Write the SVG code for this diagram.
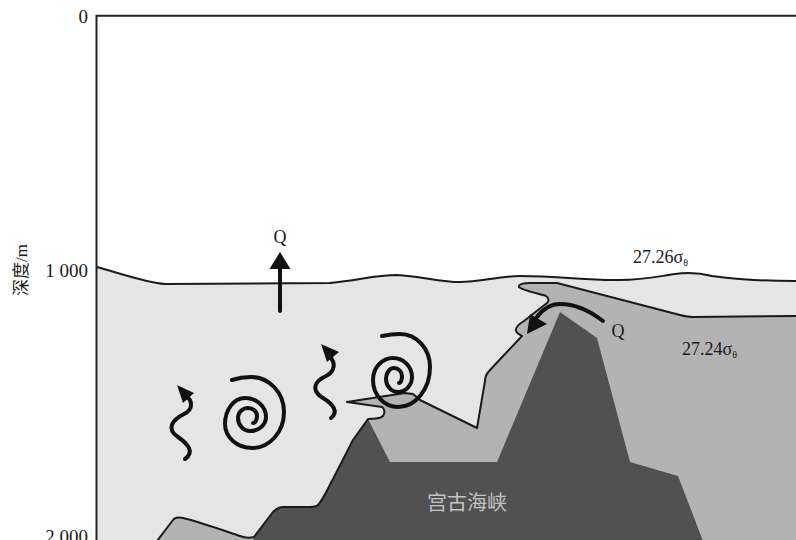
<svg xmlns="http://www.w3.org/2000/svg" width="796" height="540" viewBox="0 0 796 540">
  <style>
    .num { font-family: "Liberation Serif", "Times New Roman", serif; fill: #1a1a1a; }
    .edge { fill: none; stroke: #1a1a1a; stroke-width: 2; stroke-linejoin: round; stroke-linecap: round; }
    .flow { fill: none; stroke: #111; stroke-width: 4; stroke-linecap: round; stroke-linejoin: round; }
    .head { fill: #111; stroke: none; }
  </style>

  <rect x="0" y="0" width="796" height="540" fill="#ffffff"/>

  <!-- water layers -->
  <g id="layers">
    <!-- below the 27.26 isopycnal -->
    <path fill="#e5e5e5" d="M97,267 C125,275 148,283 165,284 L330,283 C360,280 375,275 397,275 C420,276 440,282 460,282 C480,282 500,276 520,276 C560,276 590,281 620,280 C645,280 660,276 675,274 C690,272 700,273 712,276 C740,280 770,281 796,281 L796,540 L97,540 Z"/>
    <!-- 27.24 layer and slope water -->
    <path fill="#b3b3b3" d="M796,316 L693,317 C688,317 684,316 680,315 L557,283 L530,283 C524,283 518,284 519,287 C521,290 540,294 546,296 C549,298 549,301 547,303 L538,310 L524,321 C519,324 515,327 516,331 C517,334 521,335 522,336 L490,370 C486,374 485,377 485,381 L477,428 L420,400 L413,394 L405,393 L347,402 L382,407 C385,409 385,413 383,416 C381,418 377,419 368,419 L353,440 L333,479 C329,486 323,500 318,505 C316,507 313,507 310,507 L283,507 C279,507 276,509 273,512 L254,537 C250,538 245,538 240,536 C225,531 200,522 183,518 C178,517 175,517 173,520 L157,541 L796,541 Z"/>
  </g>

  <!-- strait ridge -->
  <g id="seafloor">
    <path fill="#515151" d="M368,419 L390,462 L497,462 L560,312 L597,338 L630,462 L678,476 L703,541 L253,541 L254,537 L273,512 C276,509 279,507 283,507 L310,507 C313,507 316,507 318,505 C323,500 329,486 333,479 L353,440 Z"/>
    <text x="467" y="510" text-anchor="middle" font-family="'Noto Sans CJK SC', sans-serif" font-size="20" fill="#c4c4c4">宫古海峡</text>
  </g>

  <!-- interfaces -->
  <g id="interfaces">
    <path class="edge" d="M97,267 C125,275 148,283 165,284 L330,283 C360,280 375,275 397,275 C420,276 440,282 460,282 C480,282 500,276 520,276 C560,276 590,281 620,280 C645,280 660,276 675,274 C690,272 700,273 712,276 C740,280 770,281 796,281"/>
    <path class="edge" d="M796,316 L693,317 C688,317 684,316 680,315 L557,283 L530,283 C524,283 518,284 519,287 C521,290 540,294 546,296 C549,298 549,301 547,303 L538,310 L524,321 C519,324 515,327 516,331 C517,334 521,335 522,336 L490,370 C486,374 485,377 485,381 L477,428 L420,400 L413,394 L405,393 L347,402 L382,407 C385,409 385,413 383,416 C381,418 377,419 368,419 L353,440 L333,479 C329,486 323,500 318,505 C316,507 313,507 310,507 L283,507 C279,507 276,509 273,512 L254,537 C250,538 245,538 240,536 C225,531 200,522 183,518 C178,517 175,517 173,520 L157,541"/>
  </g>

  <!-- axes -->
  <g id="axes">
    <path d="M96.5,540 L96.5,15.7 L796,15.7" fill="none" stroke="#222" stroke-width="2"/>
    <text class="num" x="88" y="23" text-anchor="end" font-size="19">0</text>
    <text class="num" x="88" y="277" text-anchor="end" font-size="19">1 000</text>
    <text class="num" x="88" y="543" text-anchor="end" font-size="19">2 000</text>
    <text transform="translate(27,270) rotate(-90)" text-anchor="middle" font-family="'Liberation Serif', 'Noto Sans CJK SC', serif" font-size="17" fill="#1a1a1a">深度/m</text>
  </g>

  <!-- fluxes and eddies -->
  <g id="connectors">
    <!-- upward flux -->
    <path class="flow" d="M280,311 L280,266" stroke-linecap="butt" stroke-width="4.5"/>
    <polygon class="head" points="280,252 269.5,269 290.5,269"/>
    <!-- flux over the sill -->
    <path class="flow" d="M603,321 C590,311 575,304 560,304 C550,304 543,309 537,317"/>
    <polygon class="head" points="527,334 530,314 547,324"/>
    <!-- wavy arrows -->
    <path class="flow" d="M185,459 C195,452 188,444 178,437 C166,429 172,420 184,414 C194,409 192,400 186,396"/>
    <polygon class="head" points="177,385 194,393 183,403"/>
    <path class="flow" d="M331,418 C339,412 333,404 323,398 C310,390 315,381 326,376 C336,371 335,362 330,357"/>
    <polygon class="head" points="321,344 339,352 327,362"/>
    <!-- eddies -->
    <path class="flow" d="M232,380 Q241,377 251,377 A33 35 0 0 1 284 412 A32 36 0 0 1 252 448 A27 24 0 0 1 225 424 A20 26 0 0 1 245 398 A21 19 0 0 1 266 417 A16 14 0 0 1 250 431 A12 13 0 0 1 238 418 A10 10 0 0 1 248 408 A9 8 0 0 1 257 416 A4 7 0 0 1 253 423"/>
    <path class="flow" d="M382,336 Q391,334 400,334 A30 33 0 0 1 430 367 A32 40 0 0 1 398 407 A25 27 0 0 1 373 380 A20 22 0 0 1 393 358 A19 19 0 0 1 412 377 A14 15 0 0 1 398 392 A12 13 0 0 1 386 379 A8 11 0 0 1 394 368 A8 8 0 0 1 402 376 A3 7 0 0 1 399 383"/>
  </g>

  <!-- labels -->
  <g id="labels">
    <text class="num" x="280" y="243" text-anchor="middle" font-size="18">Q</text>
    <text class="num" x="618" y="337" text-anchor="middle" font-size="18">Q</text>
    <text class="num" x="633" y="263" font-size="18">27.26σ<tspan font-size="10" dy="3">θ</tspan></text>
    <text class="num" x="682" y="355" font-size="18">27.24σ<tspan font-size="10" dy="3">θ</tspan></text>
  </g>
</svg>
